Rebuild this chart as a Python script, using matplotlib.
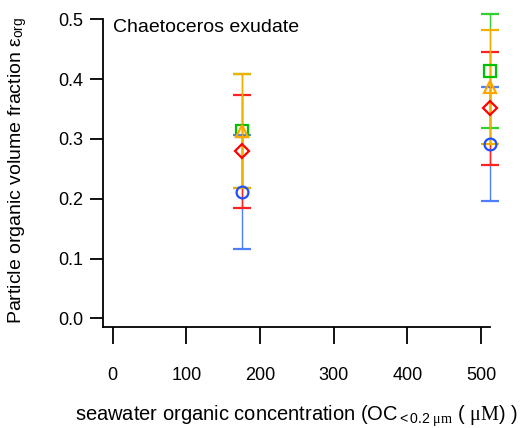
import matplotlib
matplotlib.use("Agg")
import matplotlib.pyplot as plt

# data
oc = [175, 512]
blue_y = [0.211, 0.2915]
red_y = [0.279, 0.351]
green_y = [0.313, 0.4135]
orange_y = [0.313, 0.387]
err = 0.095

plt.rcParams['font.family'] = ['Liberation Sans', 'DejaVu Sans']
plt.rcParams['mathtext.fontset'] = 'custom'
plt.rcParams['mathtext.rm'] = 'Liberation Serif'
plt.rcParams['mathtext.it'] = 'Liberation Serif:italic'
plt.rcParams['mathtext.sf'] = 'Liberation Sans'

fig = plt.figure(figsize=(5.27, 4.28), dpi=100)
ax = fig.add_axes([103/527, 1-326.7/428, (490-103)/527, (326.7-19.3)/428])

series = [
    (blue_y, 'o', '#1f4fff', '#4f7fff', 8.5),
    (red_y, 'D', '#ff0000', '#ff2020', 7),
    (green_y, 's', '#00c000', '#30d030', 8.5),
    (orange_y, '^', '#ffa500', '#f0b000', 8.5),
]
for ys, m, c, ec, ms in series:
    ax.errorbar(oc, ys, yerr=err, fmt=m, mfc='none', mec=c, mew=1.6, ms=ms,
                ecolor=ec, elinewidth=1.0, capsize=6.5, capthick=1.0,
                clip_on=False)

ax.set_xlim(-13, 512)
ax.set_ylim(-0.014, 0.5)
ax.set_xticks([0, 100, 200, 300, 400, 500])
ax.set_yticks([0.0, 0.1, 0.2, 0.3, 0.4, 0.5])
ax.set_yticklabels(['0.0', '0.1', '0.2', '0.3', '0.4', '0.5'])
for s in ['top', 'right']:
    ax.spines[s].set_visible(False)
for s in ['left', 'bottom']:
    ax.spines[s].set_linewidth(1.3)
ax.tick_params(axis='y', direction='out', length=9.5, width=1.3, labelsize=13, pad=4.5)
ax.tick_params(axis='x', direction='out', length=12, width=1.3, labelsize=13, pad=17)

ax.text(0.026, 0.972, 'Chaetoceros exudate', transform=ax.transAxes, fontsize=14,
        va='center', ha='left')
ax.set_ylabel(r'Particle organic volume fraction $\mathsf{\varepsilon}_{\mathsf{org}}$', fontsize=14)
ax.yaxis.set_label_coords(-0.19, 0.51)
ax.set_xlabel(r'seawater organic concentration (OC$_{\mathsf{<0.2}\ \mathrm{\mu m}}$ ( $\mathrm{\mu M}$) )',
              fontsize=14.5, labelpad=14)

fig.savefig('out.png', dpi=100)
